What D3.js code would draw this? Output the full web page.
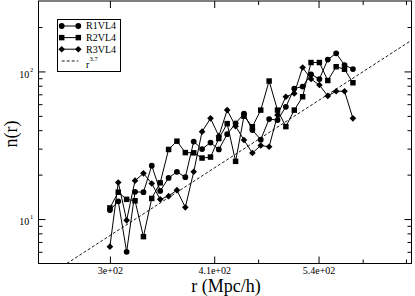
<!DOCTYPE html>
<html>
<head>
<meta charset="utf-8">
<script src="https://cdn.jsdelivr.net/npm/d3@7"></script>
<style>
  html, body { margin: 0; padding: 0; background: #fff; }
  svg { display: block; }
  text { font-family: "Liberation Serif", "Times New Roman", serif; fill: #000; }
</style>
</head>
<body>
<svg id="chart" width="415" height="296"></svg>
<script>
// ---- data ----
const rValues = [300.0, 307.3, 314.8, 322.5, 330.4, 338.4, 346.7, 355.2, 363.8, 372.7,
                 381.8, 391.1, 400.7, 410.4, 420.4, 430.7, 441.2, 452.0, 463.0, 474.3,
                 485.9, 497.7, 509.9, 522.3, 535.1, 548.1, 561.5, 575.2, 589.2, 603.6];
const nR1VL4 = [11.5, 13.2, 6.0, 15.3, 15.2, 23.0, 15.5, 19.0, 20.9, 19.2,
                33.5, 29.8, 33.0, 29.6, 37.6, 44.5, 51.8, 40.1, 34.5, 47.6,
                46.8, 57.6, 76.6, 79.0, 95.7, 88.8, 120.4, 132.7, 110.5, 103.8];
const nR2VL4 = [11.9, 15.2, 13.6, 13.3, 7.6, 13.8, 17.6, 29.6, 33.7, 28.2,
                28.1, 25.9, 26.3, 35.1, 44.3, 24.6, 49.8, 42.2, 54.7, 86.1,
                54.7, 42.3, 54.7, 67.4, 114.9, 114.9, 86.8, 107.6, 103.5, 83.8];
const nR3VL4 = [6.5, 17.7, 9.8, 18.2, 20.4, 17.4, 13.6, 14.3, 15.7, 12.0,
                20.9, 39.1, 48.1, 36.5, 54.7, 42.6, 34.3, 28.0, 31.5, 30.9,
                50.6, 67.4, 71.0, 106.3, 88.8, 80.9, 68.3, 73.4, 73.4, 48.1];
const seriesNames = ["R1VL4", "R2VL4", "R3VL4"];
const seriesShapes = ["circle", "square", "diamond"];
// reference power-law line r^3.7 (end points)
const refLineR = [265, 715];
const refLineN = [5, 163];
const refExponent = "3.7";
// axes
const xDomain = [244.3, 714.4];
const yDomain = [5, 300];
const xMajorTicks = [300, 405, 546.75];
const xTickLabels = ["3e+02", "4.1e+02", "5.4e+02"];
const xMinorTicks = [459.5, 620.8, 703.1];
const yMajorTicks = [10, 100];
const yTickExponents = ["1", "2"];
const yMinorTicks = [6, 7, 8, 9, 20, 30, 40, 50, 60, 70, 80, 90, 200];
const xTitle = "r (Mpc/h)";
const yTitle = "n(r)";

// ---- layout ----
const L = 38.5, R = 411.5, T = 1, B = 263.5;
const svg = d3.select("#chart");
const x = d3.scaleLog().domain(xDomain).range([L, R]);
const y = d3.scaleLog().domain(yDomain).range([B, T]);

svg.append("defs").append("clipPath").attr("id", "plotclip")
  .append("rect").attr("x", L).attr("y", T).attr("width", R - L).attr("height", B - T);

// reference dashed line
const refData = refLineR.map((r, i) => ({ r, n: refLineN[i] }));
svg.append("path")
  .datum(refData)
  .attr("clip-path", "url(#plotclip)")
  .attr("fill", "none").attr("stroke", "#000").attr("stroke-width", 0.9)
  .attr("stroke-dasharray", "3,2")
  .attr("d", d3.line().x(d => x(d.r)).y(d => y(d.n)));

// series
const seriesValues = [nR1VL4, nR2VL4, nR3VL4];
const symbolFor = {
  circle: d3.symbol().type(d3.symbolCircle).size(26),
  square: d3.symbol().type(d3.symbolSquare).size(30),
  diamond: d3.symbol().type(d3.symbolSquare).size(22)
};
const line = d3.line().x(d => x(d.r)).y(d => y(d.n));
seriesValues.forEach((vals, si) => {
  const data = rValues.map((r, i) => ({ r, n: vals[i] }));
  const g = svg.append("g");
  g.append("path").datum(data)
    .attr("fill", "none").attr("stroke", "#000").attr("stroke-width", 1)
    .attr("d", line);
  const shape = seriesShapes[si];
  g.selectAll("path.m").data(data).join("path").attr("class", "m")
    .attr("d", symbolFor[shape]())
    .attr("fill", "#000")
    .attr("transform", d => `translate(${x(d.r)},${y(d.n)})` + (shape === "diamond" ? " rotate(45)" : ""));
});

// axes
function clean(g) { g.select(".domain").remove(); g.selectAll(".tick line").attr("stroke", "#000"); }
// bottom
svg.append("g").attr("transform", `translate(0,${B})`)
  .call(d3.axisBottom(x).tickValues(xMajorTicks).tickSize(-7).tickPadding(3.6)
        .tickFormat((d, i) => xTickLabels[i]))
  .call(clean)
  .call(g => g.selectAll("text").attr("font-size", 10).attr("font-family", "Liberation Serif"));
svg.append("g").attr("transform", `translate(0,${B})`)
  .call(d3.axisBottom(x).tickValues(xMinorTicks).tickSize(-4).tickFormat(() => ""))
  .call(clean);
// top
svg.append("g").attr("transform", `translate(0,${T})`)
  .call(d3.axisTop(x).tickValues(xMajorTicks).tickSize(-7).tickFormat(() => ""))
  .call(clean);
svg.append("g").attr("transform", `translate(0,${T})`)
  .call(d3.axisTop(x).tickValues(xMinorTicks).tickSize(-4).tickFormat(() => ""))
  .call(clean);
// left
svg.append("g").attr("transform", `translate(${L},0)`)
  .call(d3.axisLeft(y).tickValues(yMajorTicks).tickSize(-7).tickFormat(() => ""))
  .call(clean)
  .call(g => g.selectAll(".tick text").each(function(d, i) {
    const t = d3.select(this);
    t.text(null).attr("x", -5.3).attr("dy", null).attr("y", 5.6)
      .attr("text-anchor", "end").attr("font-size", 10).attr("font-family", "Liberation Serif");
    t.append("tspan").text("10");
    t.append("tspan").attr("font-size", 6.5).attr("dx", 0.6).attr("dy", -5.8).text(yTickExponents[i]);
  }));
svg.append("g").attr("transform", `translate(${L},0)`)
  .call(d3.axisLeft(y).tickValues(yMinorTicks).tickSize(-4).tickFormat(() => ""))
  .call(clean);
// right
svg.append("g").attr("transform", `translate(${R},0)`)
  .call(d3.axisRight(y).tickValues(yMajorTicks).tickSize(-7).tickFormat(() => ""))
  .call(clean);
svg.append("g").attr("transform", `translate(${R},0)`)
  .call(d3.axisRight(y).tickValues(yMinorTicks).tickSize(-4).tickFormat(() => ""))
  .call(clean);

// frame
svg.append("rect").attr("x", L).attr("y", T).attr("width", R - L).attr("height", B - T)
  .attr("fill", "none").attr("stroke", "#000").attr("stroke-width", 1);

// titles
svg.append("text").attr("x", (L + R) / 2 + 1).attr("y", 292)
  .attr("text-anchor", "middle").attr("font-size", 18).text(xTitle);
svg.append("text").attr("transform", "translate(17,134) rotate(-90)")
  .attr("text-anchor", "middle").attr("font-size", 18).text(yTitle);

// legend
const lg = svg.append("g");
lg.append("rect").attr("x", 57.5).attr("y", 19.5).attr("width", 63).attr("height", 52)
  .attr("fill", "#fff").attr("stroke", "#000").attr("stroke-width", 1);
const rowY = [26, 37.6, 49.2, 61];
seriesNames.forEach((name, i) => {
  const yy = rowY[i];
  lg.append("line").attr("x1", 61.7).attr("x2", 78.3).attr("y1", yy).attr("y2", yy)
    .attr("stroke", "#000").attr("stroke-width", 1);
  const shape = seriesShapes[i];
  [61.7, 78.3].forEach(xx => {
    lg.append("path").attr("d", symbolFor[shape]()).attr("fill", "#000")
      .attr("transform", `translate(${xx},${yy})` + (shape === "diamond" ? " rotate(45)" : ""));
  });
  lg.append("text").attr("x", 86).attr("y", yy + 3.4).attr("font-size", 10).text(name);
});
lg.append("line").attr("x1", 61.7).attr("x2", 78.3).attr("y1", rowY[3]).attr("y2", rowY[3])
  .attr("stroke", "#000").attr("stroke-width", 0.9).attr("stroke-dasharray", "3,2");
lg.append("text").attr("x", 86).attr("y", 68).attr("font-size", 10).text("r");
lg.append("text").attr("x", 89.6).attr("y", 61.3).attr("font-size", 6.5).text(refExponent);
</script>
</body>
</html>
